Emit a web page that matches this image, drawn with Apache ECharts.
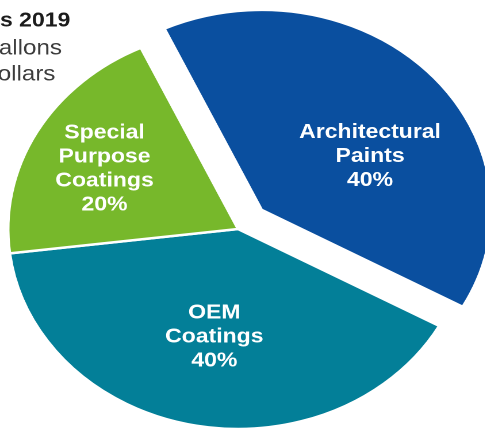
<!DOCTYPE html>
<html>
<head>
<meta charset="utf-8">
<script src="https://cdn.jsdelivr.net/npm/echarts@6/dist/echarts.min.js"></script>
<style>
  html, body { margin: 0; padding: 0; background: #fff; overflow: hidden; }
  #wrap { width: 485px; height: 430px; overflow: hidden; position: relative; }
  /* the pie is drawn slightly widened, so the canvas is stretched horizontally */
  #chart { width: 422px; height: 430px; transform: scaleX(1.15); transform-origin: 0 0; }
</style>
</head>
<body>
<div id="wrap"><div id="chart"></div></div>
<script>
// Shares of the coatings market (percent)
const categories = ['Architectural\nPaints', 'OEM\nCoatings', 'Special\nPurpose\nCoatings'];
const shares = [40, 40, 20];
const colors = ['#0a4f9f', '#037f98', '#77b82b'];
const exploded = [true, false, false];
// label nudges within each slice
const labelShift = [[19, 17], [-1, 7], [-26, -10]];

const headingLines = ['s 2019', 'allons', 'ollars'];

const chart = echarts.init(document.getElementById('chart'), null, { renderer: 'canvas', devicePixelRatio: 2 });

chart.setOption({
  animation: false,
  backgroundColor: '#ffffff',
  graphic: [
    { type: 'text', left: 0, top: 11, style: { text: headingLines[0], font: 'bold 20px "Liberation Sans", Arial, sans-serif', fill: '#1c1c1c' } },
    { type: 'text', left: -1, top: 38, style: { text: headingLines[1], font: '21px "Liberation Sans", Arial, sans-serif', fill: '#3c3c3c' } },
    { type: 'text', left: -2, top: 64, style: { text: headingLines[2], font: '21px "Liberation Sans", Arial, sans-serif', fill: '#3c3c3c' } }
  ],
  series: [{
    type: 'pie',
    center: [207, 229],
    radius: 200,
    startAngle: 115,
    clockwise: true,
    selectedMode: 'multiple',
    selectedOffset: 28,
    avoidLabelOverlap: false,
    labelLine: { show: false },
    emphasis: { disabled: true },
    itemStyle: { borderColor: '#ffffff', borderWidth: 2.5 },
    label: {
      show: true,
      position: 'inside',
      formatter: p => p.name + '\n' + p.value + '%',
      color: '#ffffff',
      fontFamily: '"Liberation Sans", Arial, sans-serif',
      fontWeight: 'bold',
      fontSize: 20,
      lineHeight: 24,
      align: 'center'
    },
    data: categories.map((name, i) => ({
      name: name,
      value: shares[i],
      selected: exploded[i],
      itemStyle: { color: colors[i] },
      label: { offset: labelShift[i] },
      select: { label: { offset: labelShift[i] } }
    }))
  }]
});
</script>
</body>
</html>
